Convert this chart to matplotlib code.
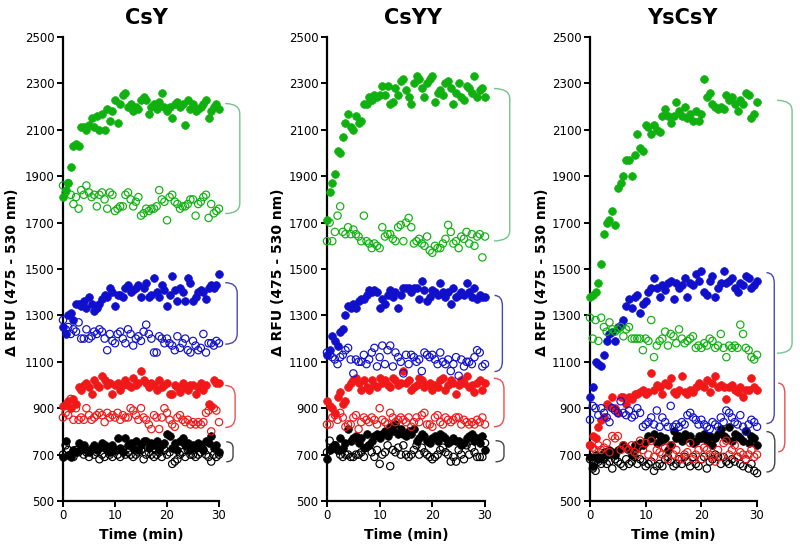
#!/usr/bin/env python3
"""Three-panel time course of delta RFU (CsY / CsYY / YsCsY), filled vs open series."""

import numpy as np
import matplotlib
matplotlib.use('Agg')
import matplotlib.pyplot as plt
from matplotlib.path import Path
from matplotlib.patches import PathPatch

# ---------------- data (0.5 min sampling) ----------------
time_min = np.arange(61) * 0.5

panel_titles = ['CsY', 'CsYY', 'YsCsY']
y_ticks = [500, 700, 900, 1100, 1300, 1500, 1700, 1900, 2100, 2300, 2500]
x_ticks = [0, 10, 20, 30]

# --- CsY ---
csy_green_fill = [1810, 1840, 1870, 1940, 2030, 2040, 2030, 2110, 2110, 2100,
                  2120, 2150, 2110, 2160, 2100, 2170, 2100, 2190, 2140, 2180,
                  2230, 2130, 2210, 2250, 2260, 2200, 2210, 2180, 2200, 2190,
                  2230, 2240, 2230, 2170, 2200, 2210, 2190, 2220, 2260, 2200,
                  2180, 2200, 2150, 2210, 2220, 2200, 2210, 2120, 2230, 2190,
                  2210, 2180, 2190, 2200, 2210, 2230, 2150, 2180, 2200, 2210,
                  2190]
csy_green_open = [1860, 1830, 1870, 1820, 1780, 1810, 1760, 1840, 1820, 1860,
                  1830, 1810, 1820, 1770, 1820, 1830, 1800, 1760, 1830, 1820,
                  1750, 1760, 1770, 1770, 1820, 1830, 1800, 1770, 1790, 1810,
                  1730, 1740, 1760, 1750, 1760, 1760, 1770, 1840, 1800, 1790,
                  1710, 1810, 1820, 1790, 1780, 1760, 1770, 1770, 1780, 1800,
                  1800, 1730, 1780, 1790, 1810, 1820, 1720, 1780, 1740, 1750,
                  1760]
csy_blue_fill = [1250, 1220, 1300, 1310, 1280, 1350, 1350, 1340, 1360, 1330,
                 1380, 1350, 1320, 1330, 1350, 1370, 1390, 1380, 1420, 1400,
                 1340, 1390, 1390, 1380, 1420, 1430, 1400, 1410, 1420, 1430,
                 1380, 1420, 1440, 1380, 1390, 1460, 1400, 1380, 1430, 1410,
                 1340, 1390, 1470, 1410, 1360, 1420, 1400, 1360, 1460, 1440,
                 1360, 1380, 1400, 1410, 1400, 1370, 1420, 1430, 1420, 1430,
                 1480]
csy_blue_open = [1280, 1240, 1250, 1220, 1240, 1230, 1270, 1200, 1200, 1240,
                 1200, 1210, 1230, 1220, 1240, 1230, 1200, 1150, 1220, 1190,
                 1180, 1220, 1230, 1200, 1180, 1240, 1220, 1170, 1200, 1210,
                 1190, 1230, 1260, 1220, 1200, 1140, 1140, 1210, 1200, 1180,
                 1200, 1180, 1170, 1150, 1210, 1160, 1180, 1200, 1150, 1140,
                 1190, 1170, 1150, 1160, 1220, 1140, 1180, 1180, 1170, 1190,
                 1180]
csy_red_fill = [910, 920, 930, 900, 940, 920, 990, 980, 1000, 1010,
                990, 960, 1020, 1000, 990, 1040, 1020, 1000, 1010, 960,
                1000, 1010, 980, 1000, 1020, 1000, 990, 1030, 1000, 1010,
                1060, 1020, 1010, 990, 1010, 1000, 980, 1020, 990, 1000,
                1010, 960, 960, 1000, 990, 970, 1010, 990, 980, 1000,
                1000, 960, 990, 1010, 980, 1000, 920, 910, 1020, 1010,
                1010]
csy_red_open = [860, 880, 870, 940, 850, 900, 850, 860, 850, 900,
                870, 850, 860, 870, 880, 870, 840, 880, 860, 870,
                860, 880, 850, 870, 860, 860, 900, 890, 870, 850,
                900, 860, 850, 830, 810, 870, 860, 810, 860, 900,
                880, 850, 830, 820, 860, 870, 850, 840, 850, 830,
                840, 830, 840, 830, 840, 880, 890, 800, 900, 890,
                840]
csy_black_fill = [690, 760, 700, 690, 720, 710, 750, 730, 740, 720,
                  710, 730, 740, 720, 730, 750, 740, 720, 710, 740,
                  720, 770, 730, 710, 770, 740, 750, 730, 760, 720,
                  740, 760, 760, 730, 750, 740, 760, 720, 740, 750,
                  790, 780, 730, 750, 720, 760, 770, 740, 750, 720,
                  740, 730, 750, 740, 720, 760, 750, 780, 730, 740,
                  710]
csy_black_open = [700, 740, 720, 700, 690, 720, 710, 720, 700, 710,
                  690, 720, 700, 710, 680, 700, 690, 720, 700, 690,
                  720, 700, 690, 720, 700, 710, 700, 690, 700, 710,
                  720, 680, 700, 710, 700, 690, 700, 710, 690, 720,
                  700, 710, 660, 670, 680, 700, 710, 690, 720, 700,
                  700, 690, 700, 710, 720, 700, 690, 670, 700, 690,
                  700]

# --- CsYY ---
csyy_green_fill = [1710, 1830, 1870, 1910, 2010, 2000, 2070, 2130, 2170, 2110,
                   2100, 2160, 2130, 2140, 2210, 2210, 2240, 2230, 2250, 2240,
                   2250, 2290, 2250, 2290, 2210, 2220, 2280, 2250, 2310, 2320,
                   2270, 2240, 2210, 2300, 2330, 2320, 2280, 2240, 2300, 2320,
                   2330, 2220, 2260, 2270, 2250, 2300, 2310, 2280, 2210, 2260,
                   2300, 2240, 2230, 2290, 2280, 2260, 2330, 2240, 2270, 2280,
                   2240]
csyy_green_open = [1620, 1700, 1620, 1660, 1730, 1770, 1660, 1650, 1680, 1650,
                   1670, 1650, 1640, 1620, 1730, 1620, 1610, 1590, 1610, 1600,
                   1590, 1680, 1640, 1650, 1650, 1630, 1620, 1680, 1690, 1620,
                   1700, 1720, 1680, 1610, 1620, 1630, 1610, 1600, 1640, 1580,
                   1570, 1600, 1590, 1590, 1610, 1630, 1690, 1660, 1610, 1620,
                   1590, 1640, 1630, 1660, 1610, 1650, 1600, 1640, 1650, 1550,
                   1640]
csyy_blue_fill = [1130, 1150, 1210, 1190, 1170, 1230, 1240, 1300, 1340, 1330,
                  1350, 1330, 1360, 1370, 1370, 1390, 1410, 1400, 1410, 1400,
                  1330, 1370, 1350, 1390, 1410, 1380, 1400, 1330, 1390, 1420,
                  1420, 1420, 1400, 1420, 1420, 1370, 1450, 1410, 1360, 1380,
                  1410, 1400, 1390, 1440, 1400, 1380, 1400, 1350, 1420, 1380,
                  1390, 1400, 1390, 1440, 1400, 1380, 1420, 1370, 1390, 1380,
                  1380]
csyy_blue_open = [1140, 1130, 1120, 1110, 1090, 1120, 1130, 1150, 1160, 1110,
                  1050, 1110, 1100, 1100, 1130, 1090, 1110, 1140, 1160, 1080,
                  1120, 1170, 1090, 1150, 1170, 1080, 1140, 1120, 1100, 1050,
                  1130, 1090, 1130, 1120, 1100, 1110, 1060, 1140, 1130, 1120,
                  1130, 1110, 1090, 1140, 1100, 1090, 1110, 1060, 1090, 1120,
                  1040, 1110, 1080, 1100, 1100, 1090, 1120, 1150, 1140, 1080,
                  1090]
csyy_red_fill = [930, 910, 900, 880, 950, 970, 920, 930, 990, 1010,
                 1020, 1030, 1010, 980, 1020, 990, 980, 1020, 1000, 990,
                 1030, 1010, 1020, 1000, 990, 1030, 1020, 1000, 1010, 1060,
                 1010, 1020, 980, 990, 1000, 1030, 1020, 990, 1000, 1010,
                 980, 1000, 990, 1020, 1030, 980, 1000, 1020, 1010, 960,
                 1000, 1020, 1010, 1040, 990, 1000, 970, 1010, 1020, 980,
                 1010]
csyy_red_open = [830, 830, 860, 870, 850, 880, 860, 820, 830, 830,
                 860, 870, 810, 840, 860, 850, 840, 860, 850, 830,
                 900, 850, 840, 830, 880, 860, 840, 850, 860, 850,
                 840, 860, 820, 840, 860, 840, 870, 880, 830, 830,
                 820, 860, 870, 840, 830, 860, 850, 840, 850, 860,
                 860, 830, 850, 840, 830, 840, 830, 850, 840, 860,
                 830]
csyy_black_fill = [680, 720, 730, 740, 720, 770, 730, 750, 810, 760,
                   770, 780, 750, 770, 730, 790, 740, 760, 780, 790,
                   770, 790, 800, 780, 820, 800, 830, 790, 810, 790,
                   780, 800, 790, 810, 760, 770, 790, 780, 760, 750,
                   770, 780, 760, 790, 780, 770, 750, 760, 770, 760,
                   760, 740, 750, 770, 780, 790, 760, 770, 750, 780,
                   720]
csyy_black_open = [710, 760, 730, 740, 720, 700, 690, 700, 700, 690,
                   690, 700, 700, 710, 690, 730, 740, 710, 690, 720,
                   660, 700, 710, 740, 650, 720, 710, 730, 700, 740,
                   700, 690, 700, 720, 740, 700, 730, 710, 700, 690,
                   680, 690, 700, 720, 730, 710, 700, 670, 690, 670,
                   720, 700, 680, 740, 700, 730, 710, 690, 690, 690,
                   750]

# --- YsCsY ---
yscsy_green_fill = [1380, 1390, 1400, 1440, 1520, 1650, 1700, 1710, 1750, 1690,
                    1850, 1870, 1900, 1970, 1970, 1900, 1990, 2080, 2020, 2010,
                    2120, 2110, 2080, 2120, 2100, 2090, 2160, 2190, 2160, 2130,
                    2160, 2220, 2180, 2160, 2200, 2150, 2170, 2140, 2180, 2140,
                    2170, 2320, 2240, 2260, 2210, 2200, 2190, 2200, 2190, 2250,
                    2230, 2240, 2210, 2180, 2230, 2210, 2260, 2250, 2150, 2170,
                    2220]
yscsy_green_open = [1290, 1200, 1280, 1190, 1290, 1250, 1230, 1270, 1240, 1230,
                    1240, 1250, 1210, 1240, 1250, 1200, 1200, 1200, 1200, 1150,
                    1200, 1190, 1280, 1120, 1170, 1190, 1200, 1230, 1170, 1220,
                    1210, 1180, 1240, 1200, 1180, 1190, 1200, 1210, 1160, 1170,
                    1160, 1180, 1170, 1200, 1190, 1160, 1170, 1220, 1160, 1120,
                    1170, 1160, 1170, 1160, 1260, 1220, 1160, 1150, 1120, 1110,
                    1130]
yscsy_blue_fill = [950, 990, 1100, 1090, 1080, 1130, 1190, 1220, 1230, 1190,
                   1250, 1260, 1280, 1340, 1370, 1330, 1380, 1390, 1310, 1350,
                   1360, 1400, 1420, 1460, 1420, 1380, 1430, 1410, 1440, 1450,
                   1370, 1440, 1420, 1430, 1460, 1380, 1440, 1430, 1480, 1450,
                   1490, 1400, 1390, 1450, 1470, 1380, 1420, 1440, 1490, 1440,
                   1450, 1460, 1420, 1400, 1440, 1430, 1470, 1460, 1420, 1430,
                   1450]
yscsy_blue_open = [850, 910, 900, 870, 900, 880, 860, 840, 900, 890,
                   880, 930, 880, 870, 890, 860, 870, 900, 880, 820,
                   830, 840, 860, 830, 890, 820, 860, 840, 820, 910,
                   820, 830, 820, 840, 830, 870, 880, 860, 850, 830,
                   850, 830, 820, 810, 840, 830, 820, 860, 840, 890,
                   880, 860, 840, 830, 870, 820, 800, 830, 850, 840,
                   820]
yscsy_red_fill = [740, 780, 770, 820, 850, 860, 920, 910, 950, 900,
                  880, 950, 950, 920, 950, 940, 960, 960, 970, 980,
                  960, 970, 1050, 980, 1000, 990, 960, 1010, 1000, 1030,
                  970, 960, 980, 1040, 970, 960, 980, 970, 990, 1010,
                  1000, 990, 1020, 970, 1010, 1040, 990, 1000, 990, 940,
                  990, 1000, 980, 970, 990, 950, 980, 980, 1030, 990,
                  980]
yscsy_red_open = [740, 730, 720, 740, 720, 730, 750, 710, 780, 770,
                  780, 720, 740, 730, 720, 740, 710, 700, 760, 720,
                  750, 700, 760, 690, 720, 710, 700, 730, 680, 740,
                  700, 720, 690, 680, 700, 710, 750, 680, 700, 720,
                  680, 730, 720, 700, 690, 670, 720, 690, 750, 760,
                  700, 720, 740, 690, 710, 700, 680, 700, 720, 690,
                  700]
yscsy_black_fill = [690, 650, 700, 680, 690, 710, 700, 720, 710, 700,
                    720, 730, 740, 730, 720, 700, 740, 730, 750, 740,
                    760, 780, 770, 790, 750, 780, 760, 770, 720, 740,
                    800, 770, 780, 760, 790, 770, 780, 750, 760, 780,
                    770, 790, 760, 780, 740, 770, 790, 810, 780, 770,
                    820, 760, 790, 780, 770, 760, 800, 750, 780, 770,
                    740]
yscsy_black_open = [680, 640, 630, 670, 660, 680, 660, 670, 640, 680,
                    670, 660, 650, 680, 660, 670, 690, 660, 680, 670,
                    650, 660, 670, 630, 650, 660, 650, 680, 690, 670,
                    650, 660, 680, 660, 690, 670, 650, 690, 660, 650,
                    680, 690, 640, 670, 680, 700, 690, 660, 690, 670,
                    660, 680, 670, 690, 660, 650, 680, 640, 660, 630,
                    620]

# colours
C_GREEN = '#10B010'
C_BLUE = '#1010CC'
C_RED = '#F01818'
C_BLACK = '#000000'

# bracket colours (lighter)
B_GREEN = '#74C48C'
B_BLUE = '#4848B4'
B_RED = '#EC5050'
B_BLACK = '#444444'


def draw_bracket(ax, x0, x1, ytop, ybot, color):
    ry = min(45, 0.3 * (ytop - ybot))
    verts = [(x0, ytop), (x1, ytop), (x1, ytop - ry),
             (x1, ybot + ry), (x1, ybot), (x0, ybot)]
    codes = [Path.MOVETO, Path.CURVE3, Path.CURVE3,
             Path.LINETO, Path.CURVE3, Path.CURVE3]
    patch = PathPatch(Path(verts, codes), facecolor='none', edgecolor=color,
                      lw=1.0, clip_on=False)
    ax.add_patch(patch)


def draw_panel(ax, series):
    # series: list of (values, colour, filled)
    for vals, col, filled in series:
        t = time_min[:len(vals)]
        if filled:
            ax.scatter(t, vals, s=31, facecolors=col, edgecolors=col,
                       linewidths=0.5, clip_on=False, zorder=3)
        else:
            ax.scatter(t, vals, s=28, facecolors='none', edgecolors=col,
                       linewidths=0.85, clip_on=False, zorder=3)

    ax.set_xlim(0, 30)
    ax.set_ylim(500, 2500)
    ax.set_xticks(x_ticks)
    ax.set_yticks(y_ticks)
    for side in ('top', 'right'):
        ax.spines[side].set_visible(False)
    for side in ('left', 'bottom'):
        ax.spines[side].set_linewidth(1.6)
    ax.tick_params(direction='out', length=4, width=1.4, labelsize=8.5, pad=2)
    ax.set_xlabel('Time (min)', fontsize=10, fontweight='bold', labelpad=4)


def main():
    fig = plt.figure(figsize=(8, 5.56), dpi=100)
    W, H = 800, 556

    # axes placement in pixels: (left x of t=0, right x of t=30)
    panels_px = [(63, 219), (327, 485), (590, 757)]
    y_top, y_bot = 37, 501
    title_x = [146, 413, 682]
    ylabel_x = [12, 278, 542]

    all_series = [
        [(csy_black_open, C_BLACK, False), (csy_black_fill, C_BLACK, True),
         (csy_red_open, C_RED, False), (csy_red_fill, C_RED, True),
         (csy_blue_open, C_BLUE, False), (csy_blue_fill, C_BLUE, True),
         (csy_green_open, C_GREEN, False), (csy_green_fill, C_GREEN, True)],
        [(csyy_black_open, C_BLACK, False), (csyy_black_fill, C_BLACK, True),
         (csyy_red_open, C_RED, False), (csyy_red_fill, C_RED, True),
         (csyy_blue_open, C_BLUE, False), (csyy_blue_fill, C_BLUE, True),
         (csyy_green_open, C_GREEN, False), (csyy_green_fill, C_GREEN, True)],
        [(yscsy_black_fill, C_BLACK, True), (yscsy_black_open, C_BLACK, False),
         (yscsy_red_open, C_RED, False), (yscsy_red_fill, C_RED, True),
         (yscsy_blue_open, C_BLUE, False), (yscsy_blue_fill, C_BLUE, True),
         (yscsy_green_open, C_GREEN, False), (yscsy_green_fill, C_GREEN, True)],
    ]

    # brackets: (x0, x1, ytop, ybot, colour) in data units
    brackets = [
        [(31.2, 34.0, 2213, 1739, B_GREEN), (31.2, 33.5, 1441, 1176, B_BLUE),
         (31.2, 33.1, 998, 817, B_RED), (31.4, 32.7, 755, 669, B_BLACK)],
        [(31.7, 34.7, 2278, 1621, B_GREEN), (31.8, 33.3, 1386, 1058, B_BLUE),
         (31.7, 33.6, 1029, 820, B_RED), (32.0, 33.6, 760, 669, B_BLACK)],
        [(33.6, 36.3, 2227, 1137, B_GREEN), (31.7, 33.1, 1484, 834, B_BLUE),
         (33.8, 35.0, 1008, 712, B_RED), (31.7, 33.2, 799, 625, B_BLACK)],
    ]

    for i, (x0, x1) in enumerate(panels_px):
        ax = fig.add_axes([x0 / W, 1 - y_bot / H, (x1 - x0) / W, (y_bot - y_top) / H])
        draw_panel(ax, all_series[i])
        for bx0, bx1, yt, yb, col in brackets[i]:
            draw_bracket(ax, bx0, bx1, yt, yb, col)

        fig.text(title_x[i] / W, 1 - 18 / H, panel_titles[i], ha='center',
                 va='center', fontsize=15, fontweight='bold')
        fig.text(ylabel_x[i] / W, 1 - 272 / H, '\u0394 RFU (475 - 530 nm)',
                 ha='center', va='center', rotation=90, fontsize=10,
                 fontweight='bold')

    fig.savefig('out.png', dpi=100, facecolor='white')
    plt.close(fig)


if __name__ == '__main__':
    main()
